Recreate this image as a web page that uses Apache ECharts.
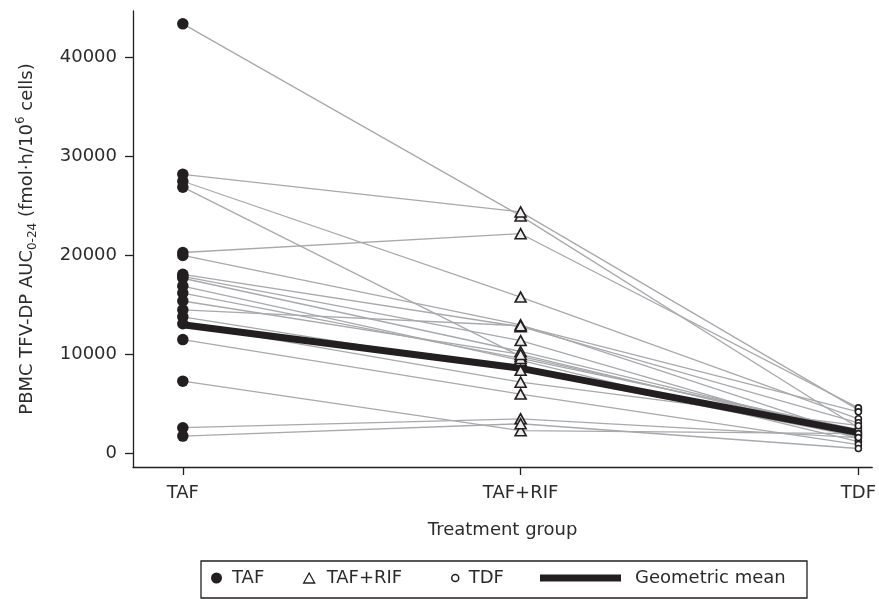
<!DOCTYPE html>
<html>
<head>
<meta charset="utf-8">
<script src="https://cdn.jsdelivr.net/npm/echarts@6/dist/echarts.min.js"></script>
<style>
html,body{margin:0;padding:0;background:#fff;}
#chart{width:879px;height:599px;}
</style>
</head>
<body>
<div id="chart"></div>
<script>
// Treatment groups (x categories)
var categories = ['TAF', 'TAF+RIF', 'TDF'];
// Individual subject values (same index = same subject)
var tafValues = [43400, 28200, 27500, 26900, 20300, 20000, 18100, 17900, 17700, 16900, 16200, 15400, 14500, 13800, 13100, 11500, 7300, 2600, 1750];
var tafRifValues = [24000, 24400, 15800, 9800, 22200, 13000, 12800, 11400, 10300, 9400, 9600, 10000, 12900, 8400, 7200, 6000, 2300, 3500, 3000];
var tdfValues = [2600, 4400, 3500, 2200, 4600, 1800, 3100, 1500, 2100, 1200, 2400, 1900, 4200, 1700, 2800, 900, 2000, 1600, 500];
// Geometric mean per group
var geoMeanValues = [13000, 8600, 2100];
// Y-axis tick labels
var yTicks = [0, 10000, 20000, 30000, 40000];

var ink = '#231f20';
var textColor = '#2b2b2b';
var font = 'DejaVu Sans';

var series = [];
for (var i = 0; i < tafValues.length; i++) {
  series.push({
    name: 'subject' + (i + 1),
    type: 'line',
    data: [[0, tafValues[i]], [1, tafRifValues[i]], [2, tdfValues[i]]],
    symbol: 'none',
    silent: true,
    z: 2,
    lineStyle: { color: '#a7a9ac', width: 1.3 }
  });
}
series.push({
  name: 'Geometric mean',
  type: 'line',
  data: geoMeanValues.map(function (v, k) { return [k, v]; }),
  symbol: 'none',
  z: 3,
  lineStyle: { color: ink, width: 7, cap: 'butt' },
  itemStyle: { color: ink }
});
series.push({
  name: 'TAF',
  type: 'scatter',
  data: tafValues.map(function (v) { return [0, v]; }),
  symbol: 'circle',
  symbolSize: 11.5,
  z: 5,
  itemStyle: { color: ink, opacity: 1 }
});
series.push({
  name: 'TAF+RIF',
  type: 'scatter',
  data: tafRifValues.map(function (v) { return [1, v]; }),
  symbol: 'triangle',
  symbolSize: [11, 10],
  z: 5,
  itemStyle: { color: '#eeeeee', borderColor: ink, borderWidth: 1.6, opacity: 1 }
});
series.push({
  name: 'TDF',
  type: 'scatter',
  data: tdfValues.map(function (v) { return [2, v]; }),
  symbol: 'circle',
  symbolSize: 6,
  z: 6,
  itemStyle: { color: '#ffffff', borderColor: ink, borderWidth: 1.6, opacity: 1 }
});

var legendText = { fontFamily: font, fontSize: 18, color: textColor };
function mkLegend(item, left, w, h, pad, itemStyle) {
  var l = {
    data: [item],
    left: left,
    top: 569,
    itemWidth: w,
    itemHeight: h,
    selectedMode: false,
    padding: 0,
    textStyle: Object.assign({ padding: [0, 0, 0, pad] }, legendText)
  };
  if (itemStyle) l.itemStyle = itemStyle;
  return l;
}

var chart = echarts.init(document.getElementById('chart'), null, { renderer: 'canvas' });
chart.setOption({
  animation: false,
  backgroundColor: '#ffffff',
  grid: { left: 133, right: 4, top: 11, bottom: 132, containLabel: false },
  xAxis: {
    type: 'value',
    min: -0.1475,
    max: 2.041,
    name: 'Treatment group',
    nameLocation: 'middle',
    nameGap: 54,
    nameTextStyle: { fontFamily: font, fontSize: 18, color: textColor },
    axisLine: { show: true, onZero: false, lineStyle: { color: ink, width: 1.3 } },
    axisTick: { show: true, customValues: [0, 1, 2], length: 8, lineStyle: { color: ink, width: 1.3 } },
    axisLabel: {
      customValues: [0, 1, 2],
      margin: 17,
      fontFamily: font, fontSize: 18, color: textColor,
      formatter: function (v) { return categories[Math.round(v)]; }
    },
    splitLine: { show: false }
  },
  yAxis: {
    type: 'value',
    min: -1370,
    max: 44700,
    name: '{n|PBMC TFV-DP AUC}{sub|0-24}{n| (fmol·h/10}{sup|6}{n| cells)}',
    nameLocation: 'middle',
    nameGap: 94,
    nameRotate: 90,
    nameTextStyle: {
      fontFamily: font, fontSize: 18, color: textColor,
      rich: {
        n: { fontFamily: font, fontSize: 18, color: textColor, lineHeight: 24 },
        sub: { fontFamily: font, fontSize: 12, color: textColor, lineHeight: 14, verticalAlign: 'bottom' },
        sup: { fontFamily: font, fontSize: 12, color: textColor, lineHeight: 14, verticalAlign: 'top' }
      }
    },
    axisLine: { show: true, onZero: false, lineStyle: { color: ink, width: 1.3 } },
    axisTick: { show: true, customValues: yTicks, length: 8, lineStyle: { color: ink, width: 1.3 } },
    axisLabel: {
      customValues: yTicks,
      margin: 16,
      fontFamily: font, fontSize: 18, color: textColor,
      formatter: function (v) { return String(Math.round(v)); }
    },
    splitLine: { show: false }
  },
  legend: [
    mkLegend('TAF', 211, 11, 11, 5),
    mkLegend('TAF+RIF', 303, 11, 10, 7, { color: '#ffffff', borderColor: ink, borderWidth: 1.3 }),
    mkLegend('TDF', 451, 7, 7, 5, { color: '#ffffff', borderColor: ink, borderWidth: 1.5 }),
    mkLegend({ name: 'Geometric mean', icon: 'rect' }, 540, 81, 7, 9, { color: ink, borderWidth: 0 })
  ],
  graphic: [{
    type: 'rect',
    shape: { x: 201, y: 561, width: 606, height: 37 },
    style: { fill: null, stroke: ink, lineWidth: 1.3 },
    silent: true,
    z: 10
  }],
  series: series
});
</script>
</body>
</html>
